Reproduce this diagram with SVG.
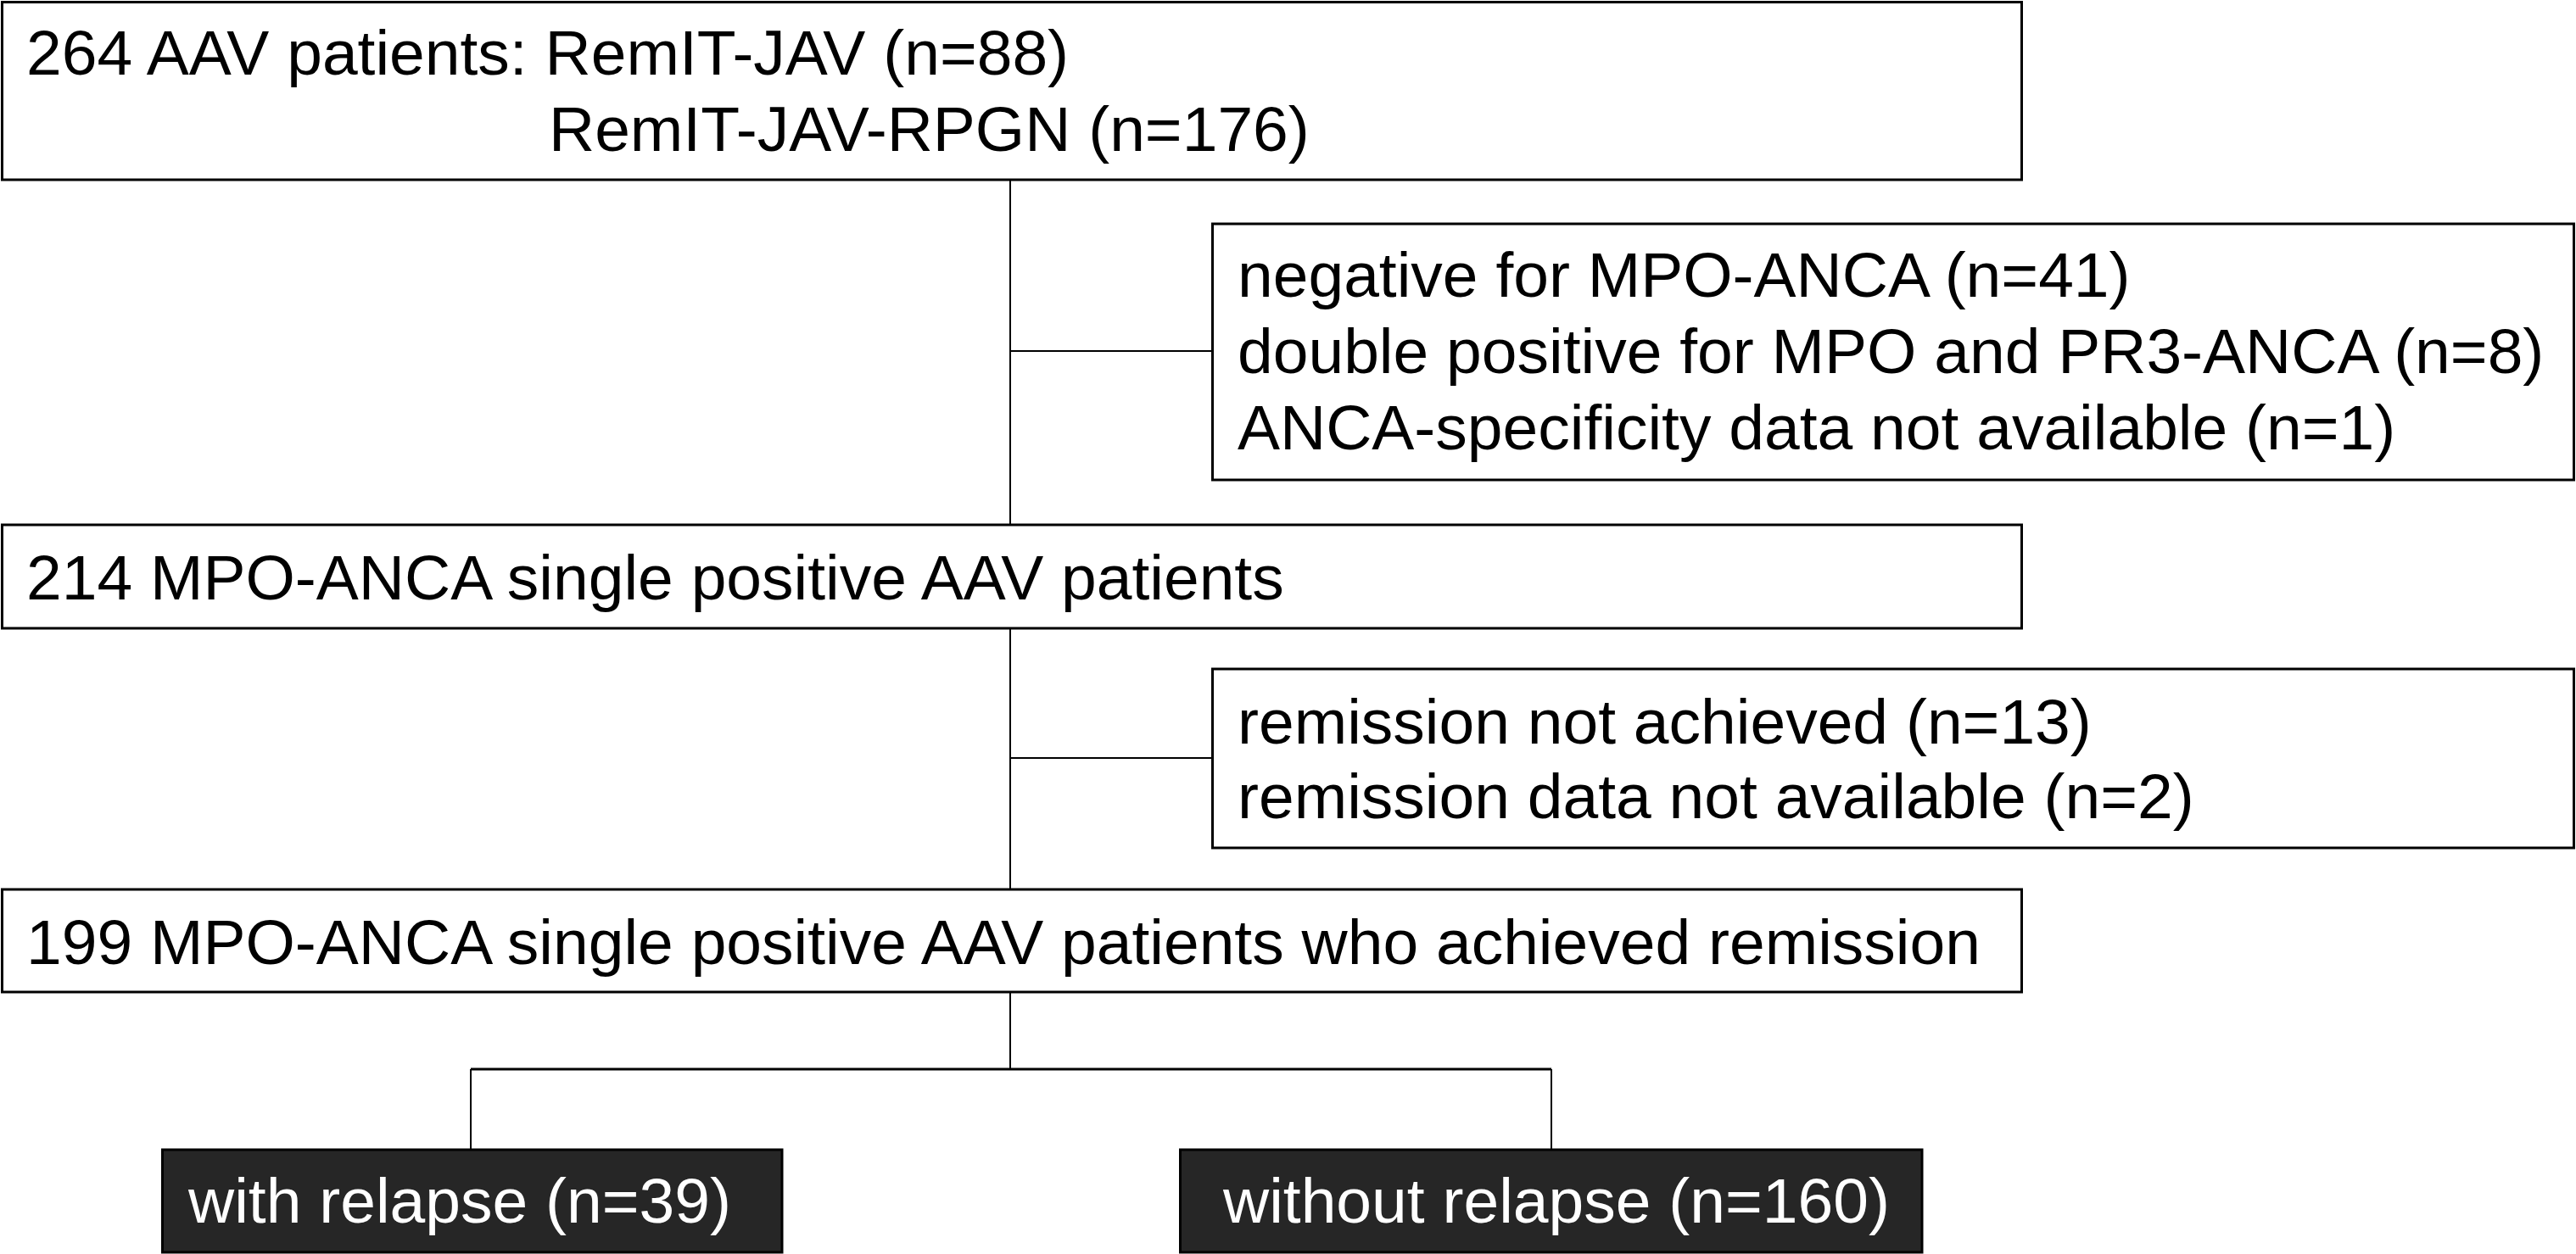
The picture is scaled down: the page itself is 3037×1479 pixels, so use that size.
<svg xmlns="http://www.w3.org/2000/svg" width="3037" height="1479" viewBox="0 0 3037 1479">
<style>
.box{fill:#ffffff;stroke:#000000;stroke-width:3}
.dark{fill:#262626;stroke:#000000;stroke-width:3}
.t{font-family:"Liberation Sans",Arial,sans-serif;font-size:75px;fill:#000000}
.tw{font-family:"Liberation Sans",Arial,sans-serif;font-size:75px;fill:#ffffff}
.c{stroke:#000000;stroke-width:2;fill:none}
</style>
<rect width="3037" height="1479" fill="#ffffff"/>
<g id="connectors">
<line class="c" x1="1191" y1="212" x2="1191" y2="619"/>
<line class="c" x1="1191" y1="414" x2="1429" y2="414"/>
<line class="c" x1="1191" y1="741" x2="1191" y2="1049"/>
<line class="c" x1="1191" y1="894" x2="1429" y2="894"/>
<line class="c" x1="1191" y1="1170" x2="1191" y2="1261"/>
<line class="c" x1="555" y1="1261" x2="1829" y2="1261" style="stroke-width:3"/>
<line class="c" x1="555" y1="1261" x2="555" y2="1356"/>
<line class="c" x1="1829" y1="1261" x2="1829" y2="1356"/>
</g>
<g id="n1">
<rect class="box" x="2.5" y="2.5" width="2381" height="209.5"/>
<text class="t" x="31" y="88">264 AAV patients: RemIT-JAV (n=88)</text>
<text class="t" x="647" y="178">RemIT-JAV-RPGN (n=176)</text>
</g>
<g id="n2">
<rect class="box" x="1429.5" y="264" width="1605" height="302"/>
<text class="t" x="1459" y="350">negative for MPO-ANCA (n=41)</text>
<text class="t" x="1459" y="440">double positive for MPO and PR3-ANCA (n=8)</text>
<text class="t" x="1459" y="530">ANCA-specificity data not available (n=1)</text>
</g>
<g id="n3">
<rect class="box" x="2.5" y="619" width="2381" height="122"/>
<text class="t" x="31" y="707">214 MPO-ANCA single positive AAV patients</text>
</g>
<g id="n4">
<rect class="box" x="1429.5" y="789" width="1605" height="211"/>
<text class="t" x="1459" y="877">remission not achieved (n=13)</text>
<text class="t" x="1459" y="965">remission data not available (n=2)</text>
</g>
<g id="n5">
<rect class="box" x="2.5" y="1049" width="2381" height="121"/>
<text class="t" x="31" y="1137">199 MPO-ANCA single positive AAV patients who achieved remission</text>
</g>
<g id="n6">
<rect class="dark" x="191.5" y="1356" width="730.5" height="121"/>
<text class="tw" x="222" y="1442">with relapse (n=39)</text>
</g>
<g id="n7">
<rect class="dark" x="1391.5" y="1356" width="874.5" height="121"/>
<text class="tw" x="1442" y="1442">without relapse (n=160)</text>
</g>
</svg>
